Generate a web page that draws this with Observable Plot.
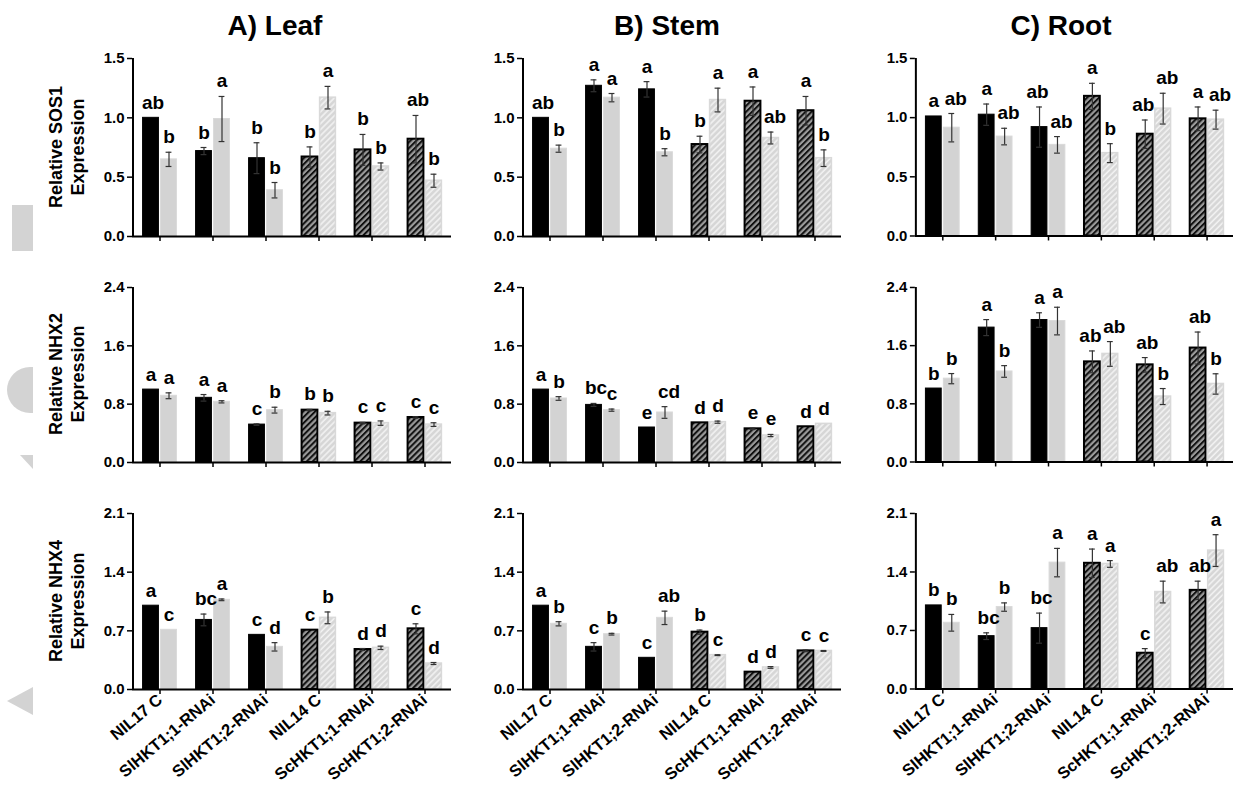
<!DOCTYPE html>
<html><head><meta charset="utf-8">
<script src="https://cdn.jsdelivr.net/npm/d3@7"></script>
<script src="https://cdn.jsdelivr.net/npm/@observablehq/plot@0.6"></script>
<style>
body{margin:0;background:#fff;font-family:"Liberation Sans",Arial,sans-serif;}
#root{position:relative;width:1236px;height:785px;overflow:hidden;background:#fff;}
.title{position:absolute;font-size:28px;font-weight:bold;line-height:28px;width:300px;text-align:center;color:#000;}
.ylab{position:absolute;width:220px;height:44px;font-size:18px;font-weight:bold;line-height:22px;text-align:center;transform:rotate(-90deg);color:#000;}
.panel{position:absolute;}
.wm{position:absolute;background:#d3d3d3;}
</style></head><body><div id="root"></div>
<script>
// ---------- data ----------
const groups = ["NIL17 C", "SlHKT1;1-RNAi", "SlHKT1;2-RNAi", "NIL14 C", "ScHKT1;1-RNAi", "ScHKT1;2-RNAi"];
const tissues = ["A) Leaf", "B) Stem", "C) Root"];
const genes = ["SOS1", "NHX2", "NHX4"];
const sos1Ticks = [0, 0.5, 1.0, 1.5];
const nhx2Ticks = [0, 0.8, 1.6, 2.4];
const nhx4Ticks = [0, 0.7, 1.4, 2.1];

// SOS1
const leafSOS1Ctrl = [1.0, 0.72, 0.66, 0.67, 0.73, 0.82];
const leafSOS1CtrlSE = [0, 0.03, 0.13, 0.085, 0.13, 0.2];
const leafSOS1Salt = [0.65, 0.99, 0.39, 1.17, 0.59, 0.47];
const leafSOS1SaltSE = [0.06, 0.19, 0.065, 0.095, 0.03, 0.055];
const leafSOS1CtrlLet = ["ab", "b", "b", "b", "b", "ab"];
const leafSOS1SaltLet = ["b", "a", "b", "a", "b", "b"];

const stemSOS1Ctrl = [1.0, 1.27, 1.24, 0.775, 1.14, 1.06];
const stemSOS1CtrlSE = [0, 0.05, 0.065, 0.07, 0.12, 0.12];
const stemSOS1Salt = [0.74, 1.17, 0.71, 1.15, 0.83, 0.66];
const stemSOS1SaltSE = [0.03, 0.035, 0.03, 0.1, 0.05, 0.07];
const stemSOS1CtrlLet = ["ab", "a", "a", "b", "a", "a"];
const stemSOS1SaltLet = ["b", "a", "b", "a", "ab", "b"];

const rootSOS1Ctrl = [1.01, 1.025, 0.92, 1.18, 0.86, 0.99];
const rootSOS1CtrlSE = [0, 0.09, 0.17, 0.11, 0.12, 0.1];
const rootSOS1Salt = [0.915, 0.84, 0.77, 0.70, 1.076, 0.983];
const rootSOS1SaltSE = [0.12, 0.07, 0.07, 0.08, 0.13, 0.08];
const rootSOS1CtrlLet = ["a", "a", "ab", "a", "ab", "a"];
const rootSOS1SaltLet = ["ab", "ab", "ab", "b", "ab", "ab"];

// NHX2
const leafNHX2Ctrl = [1.0, 0.887, 0.52, 0.718, 0.54, 0.617];
const leafNHX2CtrlSE = [0, 0.045, 0.01, 0.01, 0.01, 0.01];
const leafNHX2Salt = [0.915, 0.832, 0.718, 0.677, 0.54, 0.52];
const leafNHX2SaltSE = [0.04, 0.015, 0.04, 0.025, 0.03, 0.025];
const leafNHX2CtrlLet = ["a", "a", "c", "b", "c", "c"];
const leafNHX2SaltLet = ["a", "a", "b", "b", "c", "c"];

const stemNHX2Ctrl = [1.0, 0.79, 0.48, 0.544, 0.462, 0.49];
const stemNHX2CtrlSE = [0, 0.02, 0, 0, 0.01, 0];
const stemNHX2Salt = [0.878, 0.718, 0.686, 0.553, 0.37, 0.53];
const stemNHX2SaltSE = [0.025, 0.015, 0.08, 0.015, 0.015, 0];
const stemNHX2CtrlLet = ["a", "bc", "e", "d", "e", "d"];
const stemNHX2SaltLet = ["b", "c", "cd", "d", "e", "d"];

const rootNHX2Ctrl = [1.01, 1.848, 1.952, 1.377, 1.336, 1.567];
const rootNHX2CtrlSE = [0, 0.11, 0.1, 0.15, 0.1, 0.22];
const rootNHX2Salt = [1.146, 1.245, 1.938, 1.486, 0.90, 1.073];
const rootNHX2SaltSE = [0.07, 0.08, 0.19, 0.17, 0.11, 0.14];
const rootNHX2CtrlLet = ["b", "a", "a", "ab", "ab", "ab"];
const rootNHX2SaltLet = ["b", "b", "a", "ab", "b", "b"];

// NHX4
const leafNHX4Ctrl = [1.0, 0.83, 0.652, 0.708, 0.477, 0.724];
const leafNHX4CtrlSE = [0, 0.07, 0, 0, 0.012, 0.06];
const leafNHX4Salt = [0.712, 1.07, 0.509, 0.855, 0.497, 0.31];
const leafNHX4SaltSE = [0, 0.01, 0.05, 0.07, 0.02, 0.012];
const leafNHX4CtrlLet = ["a", "bc", "c", "c", "d", "c"];
const leafNHX4SaltLet = ["c", "a", "d", "b", "d", "d"];

const stemNHX4Ctrl = [1.0, 0.509, 0.378, 0.684, 0.207, 0.461];
const stemNHX4CtrlSE = [0, 0.05, 0, 0.025, 0, 0.01];
const stemNHX4Salt = [0.784, 0.66, 0.855, 0.41, 0.263, 0.46];
const stemNHX4SaltSE = [0.025, 0.01, 0.08, 0.005, 0.01, 0.005];
const stemNHX4CtrlLet = ["a", "c", "c", "b", "d", "c"];
const stemNHX4SaltLet = ["b", "b", "ab", "c", "d", "c"];

const rootNHX4Ctrl = [1.0, 0.632, 0.728, 1.504, 0.428, 1.18];
const rootNHX4CtrlSE = [0, 0.04, 0.18, 0.17, 0.055, 0.11];
const rootNHX4Salt = [0.792, 0.98, 1.512, 1.496, 1.16, 1.656];
const rootNHX4SaltSE = [0.1, 0.05, 0.17, 0.04, 0.13, 0.19];
const rootNHX4CtrlLet = ["b", "bc", "bc", "a", "c", "ab"];
const rootNHX4SaltLet = ["b", "b", "a", "a", "ab", "a"];

// ---------- layout ----------
const colX = [132, 522, 915];          // y-axis positions
const plotW = 319;
const rowY = [[58, 236], [286.7, 461.7], [513.3, 689.3]];
const titleCx = [275, 667, 1061];
const rowTicks = [sos1Ticks, nhx2Ticks, nhx4Ticks];

const panels = [
  [
    [leafSOS1Ctrl, leafSOS1CtrlSE, leafSOS1Salt, leafSOS1SaltSE, leafSOS1CtrlLet, leafSOS1SaltLet],
    [stemSOS1Ctrl, stemSOS1CtrlSE, stemSOS1Salt, stemSOS1SaltSE, stemSOS1CtrlLet, stemSOS1SaltLet],
    [rootSOS1Ctrl, rootSOS1CtrlSE, rootSOS1Salt, rootSOS1SaltSE, rootSOS1CtrlLet, rootSOS1SaltLet]
  ],
  [
    [leafNHX2Ctrl, leafNHX2CtrlSE, leafNHX2Salt, leafNHX2SaltSE, leafNHX2CtrlLet, leafNHX2SaltLet],
    [stemNHX2Ctrl, stemNHX2CtrlSE, stemNHX2Salt, stemNHX2SaltSE, stemNHX2CtrlLet, stemNHX2SaltLet],
    [rootNHX2Ctrl, rootNHX2CtrlSE, rootNHX2Salt, rootNHX2SaltSE, rootNHX2CtrlLet, rootNHX2SaltLet]
  ],
  [
    [leafNHX4Ctrl, leafNHX4CtrlSE, leafNHX4Salt, leafNHX4SaltSE, leafNHX4CtrlLet, leafNHX4SaltLet],
    [stemNHX4Ctrl, stemNHX4CtrlSE, stemNHX4Salt, stemNHX4SaltSE, stemNHX4CtrlLet, stemNHX4SaltLet],
    [rootNHX4Ctrl, rootNHX4CtrlSE, rootNHX4Salt, rootNHX4SaltSE, rootNHX4CtrlLet, rootNHX4SaltLet]
  ]
];

const root = document.getElementById("root");
const NS = "http://www.w3.org/2000/svg";

// watermark fragments at the left edge
[
  {l: 12, t: 205, w: 21, h: 46, r: "0"},
  {l: 7, t: 367, w: 26, h: 46, r: "23px 0 0 23px"}
].forEach(s => {
  const d = document.createElement("div");
  d.className = "wm";
  Object.assign(d.style, {left: s.l + "px", top: s.t + "px", width: s.w + "px", height: s.h + "px", borderRadius: s.r});
  root.appendChild(d);
});
{
  const d = document.createElement("div");
  d.className = "wm";
  Object.assign(d.style, {left: "7px", top: "687px", width: "26px", height: "28px", clipPath: "polygon(0 50%, 100% 0, 100% 100%)"});
  root.appendChild(d);
  const e = document.createElement("div");
  e.className = "wm";
  Object.assign(e.style, {left: "20px", top: "455px", width: "13px", height: "14px", clipPath: "polygon(0 0, 100% 0, 100% 100%)"});
  root.appendChild(e);
}

// titles
tissues.forEach((t, c) => {
  const d = document.createElement("div");
  d.className = "title";
  d.textContent = t;
  d.style.left = (titleCx[c] - 150) + "px";
  d.style.top = "12px";
  root.appendChild(d);
});

// y labels
genes.forEach((g, r) => {
  const d = document.createElement("div");
  d.className = "ylab";
  d.innerHTML = "Relative " + g + "<br>Expression";
  const cy = (rowY[r][0] + rowY[r][1]) / 2;
  d.style.left = (67 - 110) + "px";
  d.style.top = (cy - 22) + "px";
  root.appendChild(d);
});

function defsMark(id) {
  return () => {
    const defs = document.createElementNS(NS, "defs");
    defs.innerHTML = `
      <pattern id="hd${id}" patternUnits="userSpaceOnUse" width="4.2" height="4.2" patternTransform="rotate(45)">
        <rect width="4.2" height="4.2" fill="#9a9a9a"></rect>
        <line x1="1" y1="0" x2="1" y2="4.2" stroke="#111" stroke-width="2"></line>
      </pattern>
      <pattern id="hl${id}" patternUnits="userSpaceOnUse" width="4.2" height="4.2" patternTransform="rotate(45)">
        <rect width="4.2" height="4.2" fill="#d6d6d6"></rect>
        <line x1="1" y1="0" x2="1" y2="4.2" stroke="#f2f2f2" stroke-width="1.6"></line>
      </pattern>`;
    return defs;
  };
}

function yAxisLine(domain) {
  return (index, scales) => {
    const l = document.createElementNS(NS, "line");
    const x = scales.x(groups[0]);
    l.setAttribute("x1", x); l.setAttribute("x2", x);
    l.setAttribute("y1", scales.y(domain[1])); l.setAttribute("y2", scales.y(0));
    l.setAttribute("stroke", "#000"); l.setAttribute("stroke-width", "2");
    return l;
  };
}

function makePanel(r, c) {
  const [ctrl, ctrlSE, salt, saltSE, ctrlLet, saltLet] = panels[r][c];
  const ticks = rowTicks[r];
  const domain = [0, ticks[ticks.length - 1]];
  const rows = [];
  groups.forEach((g, i) => {
    rows.push({group: g, trt: "Control", mean: ctrl[i], se: ctrlSE[i], letter: ctrlLet[i], hatched: i >= 3, two: ctrlLet[i].length > 1, pairTwo: saltLet[i].length > 1});
    rows.push({group: g, trt: "NaCl", mean: salt[i], se: saltSE[i], letter: saltLet[i], hatched: i >= 3, two: saltLet[i].length > 1, pairTwo: ctrlLet[i].length > 1});
  });
  const last = r === 2;
  const ML = 50, MR = 3, MT = 12, MB = last ? 100 : 10;
  const plotH = rowY[r][1] - rowY[r][0];
  const B = plotW / 6, half = B / 2, barW = 16, gap = 2;
  const off = (barW + gap) / 2;
  const ins = {
    Control: {insetLeft: half - gap / 2 - barW, insetRight: half + gap / 2},
    NaCl: {insetLeft: half + gap / 2, insetRight: half - gap / 2 - barW}
  };
  const dxs = {Control: -off, NaCl: off};
  const id = `p${r}${c}`;
  const sel = (trt, h) => rows.filter(d => d.trt === trt && d.hatched === h);

  const errMarks = [];
  ["Control", "NaCl"].forEach(trt => {
    const data = rows.filter(d => d.trt === trt && d.se > 0);
    errMarks.push(
      Plot.ruleX(data, {x: "group", y1: d => d.mean - d.se, y2: d => d.mean + d.se, dx: dxs[trt], stroke: "#333", strokeWidth: 1.2}),
      Plot.tickY(data, {x: "group", y: d => d.mean + d.se, dx: dxs[trt], insetLeft: half - 3, insetRight: half - 3, stroke: "#333", strokeWidth: 1.2}),
      Plot.tickY(data, {x: "group", y: d => d.mean - d.se, dx: dxs[trt], insetLeft: half - 3, insetRight: half - 3, stroke: "#333", strokeWidth: 1.2})
    );
  });
  // letter nudges: two-letter labels sit a little outward so neighbours do not collide
  const nudges = [
    {trt: "Control", f: d => !d.two, dx: 0},
    {trt: "Control", f: d => d.two && !d.pairTwo, dx: 2},
    {trt: "Control", f: d => d.two && d.pairTwo, dx: -2},
    {trt: "NaCl", f: d => !d.two, dx: 0},
    {trt: "NaCl", f: d => d.two, dx: 4}
  ];
  const letterMarks = nudges.map(n =>
    Plot.text(rows.filter(d => d.trt === n.trt && n.f(d)), {
      x: "group", y: d => d.mean + d.se, text: "letter", dx: dxs[n.trt] + n.dx, dy: -9,
      lineAnchor: "bottom", fontSize: 19, fontWeight: "bold", fill: "#000"
    })
  );

  const svg = Plot.plot({
    width: ML + plotW + MR, height: MT + plotH + MB,
    marginLeft: ML, marginRight: MR, marginTop: MT, marginBottom: MB,
    style: {fontFamily: '"Liberation Sans", Arial, sans-serif', fontSize: "15px", fontWeight: "bold", color: "#000", background: "transparent", overflow: "visible"},
    x: {type: "band", domain: groups, padding: 0, label: null, axis: null},
    y: {domain, label: null, axis: null},
    marks: [
      defsMark(id),
      Plot.barY(sel("Control", false), {x: "group", y: "mean", fill: "#000", stroke: "#000", strokeWidth: 1, ...ins.Control}),
      Plot.barY(sel("Control", true), {x: "group", y: "mean", fill: `url(#hd${id})`, stroke: "#000", strokeWidth: 2, ...ins.Control}),
      Plot.barY(sel("NaCl", false), {x: "group", y: "mean", fill: "#d3d3d3", stroke: "#d9d9d9", strokeWidth: 1, ...ins.NaCl}),
      Plot.barY(sel("NaCl", true), {x: "group", y: "mean", fill: `url(#hl${id})`, stroke: "#d9d9d9", strokeWidth: 1.5, ...ins.NaCl}),
      ...errMarks,
      ...letterMarks,
      Plot.axisY({ticks, tickFormat: d3.format(".1f"), tickSize: 5, tickPadding: 3, fontSize: 15, fontWeight: "bold", strokeWidth: 1.5}),
      Plot.axisX({tickSize: 5, tickPadding: 3, tickRotate: last ? -40 : 0, strokeWidth: 1.5,
        tickFormat: last ? (d => d) : (() => ""), fontSize: 16.5, fontWeight: "bold"}),
      Plot.ruleY([0], {stroke: "#000", strokeWidth: 2}),
      yAxisLine(domain)
    ]
  });
  const wrap = document.createElement("div");
  wrap.className = "panel";
  wrap.style.left = (colX[c] - ML) + "px";
  wrap.style.top = (rowY[r][0] - MT) + "px";
  wrap.appendChild(svg);
  root.appendChild(wrap);
}

for (let r = 0; r < 3; r++) for (let c = 0; c < 3; c++) makePanel(r, c);
</script></body></html>
